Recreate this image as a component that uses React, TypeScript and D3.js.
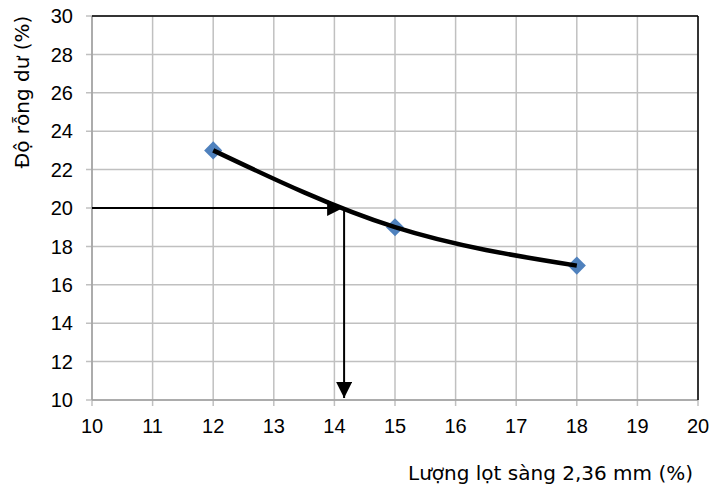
import { useRef, useEffect } from "react";
import * as d3 from "d3";

const xTicks = [10, 11, 12, 13, 14, 15, 16, 17, 18, 19, 20];
const yTicks = [10, 12, 14, 16, 18, 20, 22, 24, 26, 28, 30];
const sieveX = [12, 15, 18];
const voidY = [23, 19, 17];
const targetVoid = 20;
const readSieve = 14.16;

const W = 712;
const H = 489;

const App = () => {
  const ref = useRef<SVGSVGElement>(null);

  useEffect(() => {
    const svg = d3.select(ref.current);
    svg.selectAll("*").remove();

    const left = 92,
      right = 698,
      top = 16,
      bottom = 400;
    const x = d3.scaleLinear().domain([10, 20]).range([left, right]);
    const y = d3.scaleLinear().domain([10, 30]).range([bottom, top]);
    const tickFont = "'Liberation Sans', Arial, sans-serif";
    const titleFont = "'DejaVu Sans', Verdana, sans-serif";

    const defs = svg.append("defs");
    defs
      .append("marker")
      .attr("id", "arr")
      .attr("viewBox", "0 0 10 10")
      .attr("refX", 10)
      .attr("refY", 5)
      .attr("markerWidth", 16)
      .attr("markerHeight", 16)
      .attr("markerUnits", "userSpaceOnUse")
      .attr("orient", "auto")
      .append("path")
      .attr("d", "M0,0 L10,5 L0,10 Z")
      .attr("fill", "#000");

    // grid
    svg
      .append("g")
      .selectAll("line")
      .data(xTicks)
      .enter()
      .append("line")
      .attr("x1", (d) => x(d))
      .attr("x2", (d) => x(d))
      .attr("y1", top)
      .attr("y2", bottom + 6)
      .attr("stroke", "#c0c0c0")
      .attr("stroke-width", 1.5);
    svg
      .append("g")
      .selectAll("line")
      .data(yTicks)
      .enter()
      .append("line")
      .attr("x1", left - 6)
      .attr("x2", right)
      .attr("y1", (d) => y(d))
      .attr("y2", (d) => y(d))
      .attr("stroke", "#c0c0c0")
      .attr("stroke-width", 1.5);

    // axis lines / frame
    svg
      .append("line")
      .attr("x1", left)
      .attr("x2", left)
      .attr("y1", top)
      .attr("y2", bottom)
      .attr("stroke", "#a0a0a0")
      .attr("stroke-width", 1.5);
    svg
      .append("line")
      .attr("x1", left)
      .attr("x2", right)
      .attr("y1", bottom)
      .attr("y2", bottom)
      .attr("stroke", "#a0a0a0")
      .attr("stroke-width", 1.5);
    svg
      .append("line")
      .attr("x1", left)
      .attr("x2", right)
      .attr("y1", top)
      .attr("y2", top)
      .attr("stroke", "#000")
      .attr("stroke-width", 1.5);
    svg
      .append("line")
      .attr("x1", right)
      .attr("x2", right)
      .attr("y1", top)
      .attr("y2", bottom)
      .attr("stroke", "#000")
      .attr("stroke-width", 1.5);

    // tick labels
    svg
      .append("g")
      .selectAll("text")
      .data(xTicks)
      .enter()
      .append("text")
      .attr("x", (d) => x(d))
      .attr("y", 433)
      .attr("text-anchor", "middle")
      .attr("font-family", tickFont)
      .attr("font-size", 20)
      .attr("fill", "#000")
      .text((d) => d);
    svg
      .append("g")
      .selectAll("text")
      .data(yTicks)
      .enter()
      .append("text")
      .attr("x", 73)
      .attr("y", (d) => y(d))
      .attr("dy", "0.36em")
      .attr("text-anchor", "end")
      .attr("font-family", tickFont)
      .attr("font-size", 20)
      .attr("fill", "#000")
      .text((d) => d);

    // titles
    svg
      .append("text")
      .attr("transform", `translate(29, 92) rotate(-90)`)
      .attr("text-anchor", "middle")
      .attr("font-family", titleFont)
      .attr("font-size", 20)
      .attr("fill", "#000")
      .text("Độ rỗng dư (%)");
    svg
      .append("text")
      .attr("x", 693)
      .attr("y", 480)
      .attr("text-anchor", "end")
      .attr("font-family", titleFont)
      .attr("font-size", 20)
      .attr("fill", "#000")
      .text("Lượng lọt sàng 2,36 mm (%)");

    // data + curve
    const pts = sieveX.map((d, i) => [d, voidY[i]] as [number, number]);
    const lineGen = d3
      .line<[number, number]>()
      .x((d) => x(d[0]))
      .y((d) => y(d[1]))
      .curve(d3.curveNatural);

    svg
      .selectAll(".pt")
      .data(pts)
      .enter()
      .append("path")
      .attr("class", "pt")
      .attr("d", d3.symbol().type(d3.symbolDiamond2).size(210)())
      .attr("transform", (d) => `translate(${x(d[0])},${y(d[1])})`)
      .attr("fill", "#4f81bd");

    svg
      .append("path")
      .attr("d", lineGen(pts))
      .attr("fill", "none")
      .attr("stroke", "#000")
      .attr("stroke-width", 4.5);

    // read-off arrows
    svg
      .append("line")
      .attr("x1", x(10))
      .attr("x2", x(readSieve) - 1)
      .attr("y1", y(targetVoid))
      .attr("y2", y(targetVoid))
      .attr("stroke", "#000")
      .attr("stroke-width", 2)
      .attr("marker-end", "url(#arr)");
    svg
      .append("line")
      .attr("x1", x(readSieve))
      .attr("x2", x(readSieve))
      .attr("y1", y(targetVoid))
      .attr("y2", y(10) - 2)
      .attr("stroke", "#000")
      .attr("stroke-width", 2)
      .attr("marker-end", "url(#arr)");
  }, []);

  return (
    <svg
      ref={ref}
      width={W}
      height={H}
      style={{ position: "absolute", left: 0, top: 0, background: "#fff" }}
    ></svg>
  );
};

export default App;
